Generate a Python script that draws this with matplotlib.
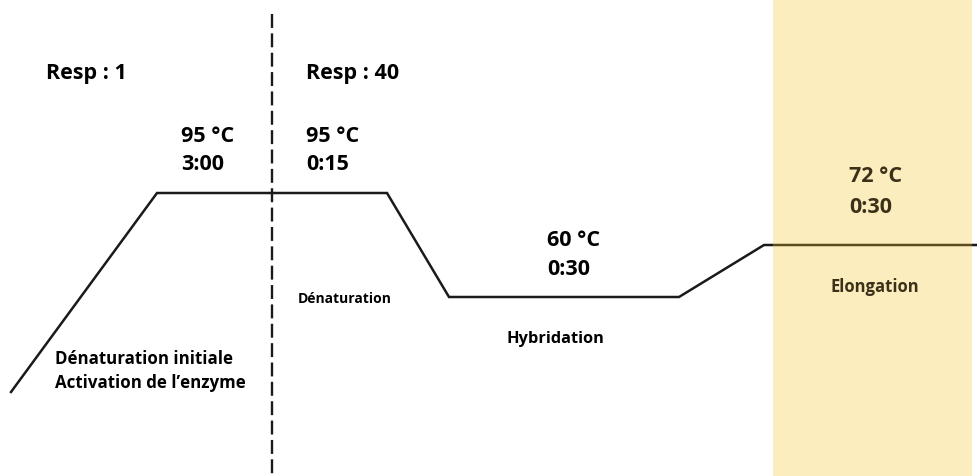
import matplotlib
matplotlib.use("Agg")
import matplotlib.pyplot as plt
from matplotlib.patches import Rectangle

# ---- data ----
profile_x = [11, 157, 387, 449, 679, 764, 978]        # schematic time axis
profile_level = [393, 194, 194, 298, 298, 246, 246]   # schematic temperature level
step_temps = ["95 °C", "95 °C", "60 °C", "72 °C"]
step_times = ["3:00", "0:15", "0:30", "0:30"]
step_names = ["Dénaturation initiale\nActivation de l’enzyme", "Dénaturation", "Hybridation", "Elongation"]
cycle_labels = ["Resp : 1", "Resp : 40"]

FONT = ["Open Sans", "DejaVu Sans"]

fig = plt.figure(figsize=(9.78, 4.77), dpi=100)
ax = fig.add_axes([0, 0, 1, 1])
ax.set_xlim(0, 978)
ax.set_ylim(477, 0)
ax.axis("off")

# profile line
ax.plot(profile_x, profile_level, color="#1a1a1a", lw=1.8, solid_joinstyle="miter", zorder=2)

# highlight of elongation step (semi-transparent over the line)
ax.add_patch(Rectangle((773, 0), 199, 477, facecolor=(0.97, 0.77, 0.17), alpha=0.3,
                       edgecolor="none", zorder=3))

# cycle separator
ax.plot([272, 272], [15, 477], color="#1a1a1a", lw=1.7, dashes=(5.9, 2.3), zorder=2)

big = dict(fontsize=15.5, fontweight="bold", family=FONT, va="center", ha="left", zorder=4)

def small(size):
    return dict(fontsize=size, fontweight="bold", family=FONT, va="center", ha="left", zorder=4)

ax.text(46, 73, cycle_labels[0], color="black", **big)
ax.text(306, 73, cycle_labels[1], color="black", **big)

temp_pos = [(181, 137, 165), (306, 137, 165), (547, 241, 270), (849, 177, 208)]
colors = ["black", "black", "black", "#3b3118"]
for (x, y1, y2), t, h, c in zip(temp_pos, step_temps, step_times, colors):
    ax.text(x, y1, t, color=c, **big)
    ax.text(x, y2, h, color=c, **big)

name_pos = [(55, 371), (298, 299), (507, 339), (830, 287)]
name_sizes = [12.2, 10.0, 11.8, 12.0]
for (x, y), n, c, s in zip(name_pos, step_names, colors, name_sizes):
    ax.text(x, y, n, color=c, linespacing=1.45, **small(s))

fig.savefig("out.png", dpi=100)
